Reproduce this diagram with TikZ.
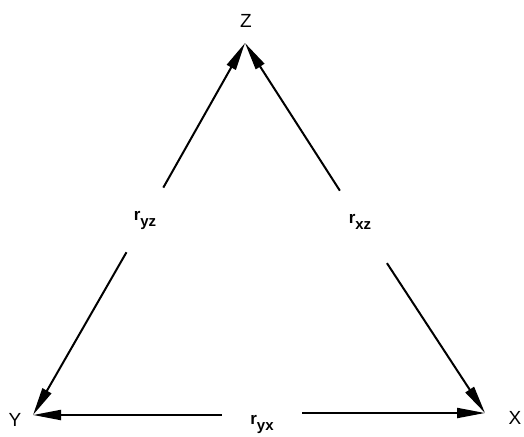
\documentclass[tikz,border=0pt]{standalone}
\usepackage{fontspec}
\setmainfont{Liberation Sans}
\usetikzlibrary{arrows.meta}
\newcommand{\rlab}[1]{r\raisebox{-6pt}{\fontsize{15}{17}\selectfont #1}}

\begin{document}
\begin{tikzpicture}[x=1pt,y=-1pt,
      vlbl/.style={font=\fontsize{19}{21}\selectfont,inner sep=0pt},
      rlbl/.style={circle,inner sep=0pt,minimum size=74pt,
                  font=\fontsize{17}{19}\selectfont\bfseries},
      rlbl2/.style={inner sep=0pt,minimum width=80pt,minimum height=20pt,
                  font=\fontsize{17}{19}\selectfont\bfseries},
      arr/.style={-{Triangle[length=28pt,width=10pt]},line width=2pt}]
    \useasboundingbox (0,0) rectangle (524,436);
    % corners of the triangle
    \coordinate (zc) at (245,43);
    \coordinate (yc) at (33,415);
    \coordinate (xc) at (485,413);
    \node[vlbl] (z) at (246,21) {Z};
    \node[vlbl] (y) at (15,420) {Y};
    \node[vlbl] (x) at (515,418) {X};
    % correlation labels
    \node[rlbl] (ryz) at (145,220) {\rlab{yz}};
    \node[rlbl] (rxz) at (360,222) {\rlab{xz}};
    \node[rlbl2] (ryx) at (262,424) {\rlab{yx}};
    \draw[arr] (ryz) -- (zc);
    \draw[arr] (ryz) -- (yc);
    \draw[arr] (rxz) -- (zc);
    \draw[arr,shorten <=12pt] (rxz) -- (xc);
    \draw[arr] (ryx.west |- yc) -- (yc);
    \draw[arr] (ryx.east |- xc) -- (xc);
\end{tikzpicture}
\end{document}
